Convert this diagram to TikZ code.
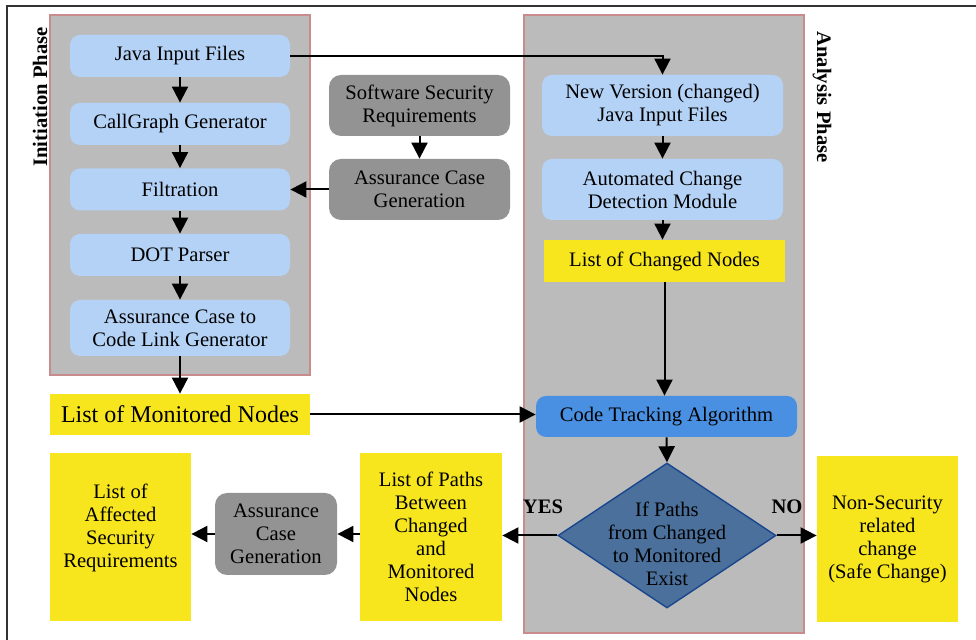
\documentclass[tikz,border=0pt]{standalone}
\usepackage{fontspec}
\setmainfont{Liberation Serif}
\usepackage{tikz}
\usetikzlibrary{arrows.meta}
\usetikzlibrary{shapes.geometric}
\definecolor{panelgray}{RGB}{187,187,187}
\definecolor{panelrim}{RGB}{200,140,140}
\definecolor{lightblue}{RGB}{180,210,245}
\definecolor{darkgray}{RGB}{147,147,147}
\definecolor{boxyellow}{RGB}{247,230,30}
\definecolor{trackblue}{RGB}{74,144,226}
\definecolor{checkblue}{RGB}{74,112,155}
\definecolor{checkrim}{RGB}{25,70,140}

\begin{document}
\begin{tikzpicture}[x=0.5pt,y=-0.5pt,
		font=\fontsize{10.3}{11.5}\selectfont,
		panel/.style={rectangle,fill=panelgray,draw=panelrim,line width=0.8pt,inner sep=0pt},
		bluebox/.style={rectangle,rounded corners=5pt,fill=lightblue,align=center,inner sep=0pt,minimum width=110pt},
		graybox/.style={rectangle,rounded corners=6pt,fill=darkgray,align=center,inner sep=0pt},
		yellowbox/.style={rectangle,fill=boxyellow,align=center,inner sep=0pt},
		phase/.style={font=\fontsize{10.3}{11.5}\selectfont\bfseries},
		>={Triangle[length=8pt,width=8pt]}]
	\useasboundingbox (0,0) rectangle (976,640);
	\draw[line width=0.7pt,black!80] (7,640) -- (7,6) -- (976,6);
	%% define panels
	\node (initpanel) at (180,195) [panel,minimum width=130pt,minimum height=180pt] {};
	\node (anapanel) at (664,324) [panel,minimum width=140pt,minimum height=309pt] {};
	\node (initlabel) at (40,97) [phase,rotate=90] {Initiation Phase};
	\node (analabel) at (822,97) [phase,rotate=-90] {Analysis Phase};
	%% initiation phase
	\node (java) at (180,56) [bluebox,minimum height=21pt] {Java Input Files};
	\node (callgraph) at (180,124) [bluebox,minimum height=21pt] {CallGraph Generator};
	\node (filtration) at (180,189.5) [bluebox,minimum height=21pt] {Filtration};
	\node (dot) at (180,255) [bluebox,minimum height=21pt] {DOT Parser};
	\node (linkgen) at (180,328) [bluebox,minimum height=28pt] {Assurance Case to\\Code Link Generator};
	\node (monitored) at (180,414.5) [yellowbox,minimum width=130pt,minimum height=20.5pt,font=\fontsize{12}{14}\selectfont] {List of Monitored Nodes};
	%% security requirements
	\node (secreq) at (419.5,105.5) [graybox,minimum width=90.5pt,minimum height=30.5pt] {Software Security\\Requirements};
	\node (acgen) at (419.5,189.5) [graybox,minimum width=90.5pt,minimum height=30.5pt] {Assurance Case\\Generation};
	%% analysis phase
	\node (newver) at (662.5,105.5) [bluebox,minimum width=120.5pt,minimum height=30.5pt] {New Version (changed)\\Java Input Files};
	\node (detect) at (662.5,189.5) [bluebox,minimum width=120.5pt,minimum height=30.5pt] {Automated Change\\Detection Module};
	\node (changed) at (664.5,261) [yellowbox,minimum width=120.5pt,minimum height=21pt] {List of Changed Nodes};
	\node (track) at (666.5,416.5) [rectangle,rounded corners=5pt,fill=trackblue,inner sep=0pt,minimum width=130.5pt,minimum height=20.5pt] {Code Tracking Algorithm};
	\node (check) at (667,535.5) [diamond,fill=checkblue,draw=checkrim,line width=0.7pt,inner sep=0pt,minimum width=109pt,minimum height=72.5pt,
		label={[align=center,yshift=-4pt]center:If Paths\\from Changed\\to Monitored\\Exist}] {};
	%% results
	\node (safe) at (887.5,539) [yellowbox,minimum width=70.5pt,minimum height=83pt] {Non-Security\\related\\change\\(Safe Change)};
	\node (paths) at (431,537) [yellowbox,minimum width=71pt,minimum height=84pt] {List of Paths\\Between\\Changed\\and\\Monitored\\Nodes};
	\node (acgen2) at (276,534) [graybox,minimum width=61pt,minimum height=41pt] {Assurance\\Case\\Generation};
	\node (affected) at (120.5,537) [yellowbox,minimum width=70.5pt,minimum height=84pt] {List of\\Affected\\Security\\Requirements\\~};
	\node (yes) at (543,507) [font=\fontsize{10.3}{11.5}\selectfont\bfseries] {YES};
	\node (no) at (787,507) [font=\fontsize{10.3}{11.5}\selectfont\bfseries] {NO};
	%% define arrows
	\draw[->,line width=1pt] (java) -- (callgraph);
	\draw[->,line width=1pt] (callgraph) -- (filtration);
	\draw[->,line width=1pt] (filtration) -- (dot);
	\draw[->,line width=1pt] (dot) -- (linkgen);
	\draw[->,line width=1pt] (linkgen) -- (monitored);
	\draw[->,line width=1pt] (secreq) -- (acgen);
	\draw[->,line width=1pt] (acgen.west) -- (acgen.west -| filtration.east);
	\draw[->,line width=1pt] (java.east) -| (newver.north);
	\draw[->,line width=1pt] (newver) -- (detect);
	\draw[->,line width=1pt] (detect.south) -- (detect.south |- changed.north);
	\draw[->,line width=1pt] (changed.south) -- (changed.south |- track.north);
	\draw[->,line width=1pt] (monitored.east) -- (monitored.east -| track.west);
	\draw[->,line width=1pt] (track.south) -- (check.north);
	\draw[->,line width=1pt] (check.east) -- (check.east -| safe.west);
	\draw[->,line width=1pt] (check.west) -- (check.west -| paths.east);
	\draw[->,line width=1pt] (paths.west |- acgen2.east) -- (acgen2.east);
	\draw[->,line width=1pt] (acgen2.west) -- (acgen2.west -| affected.east);
\end{tikzpicture}
\end{document}
